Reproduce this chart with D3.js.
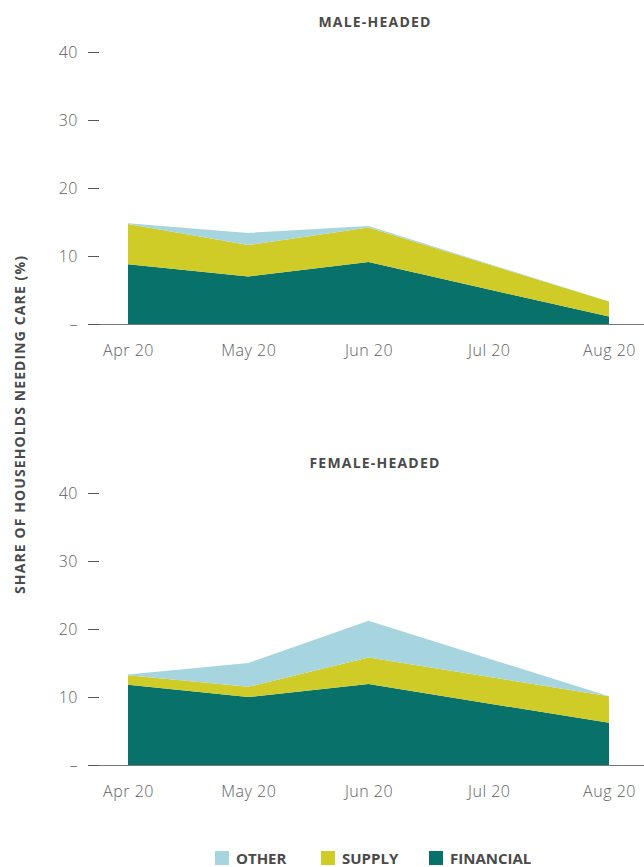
<!DOCTYPE html>
<html><head><meta charset="utf-8">
<script src="https://cdn.jsdelivr.net/npm/d3@7"></script>
<style>
body{margin:0;background:#fff;}
svg{display:block;font-family:"Open Sans",Lato,sans-serif;}
</style></head>
<body>
<svg id="c" width="644" height="867"></svg>
<script>
const axisMonths = ["Apr 20","May 20","Jun 20","Jul 20","Aug 20"];
const dataMonths = ["Apr 20","May 20","Jun 20","Aug 20"];
const seriesKeys = ["financial","supply","other"];
const seriesLabels = ["OTHER","SUPPLY","FINANCIAL"];
const yTicks = [0,10,20,30,40];

const maleFinancial = [8.8, 7.0, 9.1, 1.1];
const maleSupply    = [5.9, 4.6, 5.1, 2.2];
const maleOther     = [0.1, 1.8, 0.2, 0.0];

const femaleFinancial = [11.8, 10.0, 11.9, 6.2];
const femaleSupply    = [1.4, 1.5, 3.9, 3.9];
const femaleOther     = [0.1, 3.5, 5.4, 0.0];

const colors = {financial:"#08716a", supply:"#cfcb27", other:"#a7d5df"};

const svg = d3.select("#c");

function panel(title, fin, sup, oth, top) {
  const bottom = top + 272;
  const g = svg.append("g");
  const x = d3.scalePoint().domain(axisMonths).range([128, 609]);
  const y = d3.scaleLinear().domain([0, 40]).range([bottom, top]);
  const rows = dataMonths.map((m, i) => ({month: m, financial: fin[i], supply: sup[i], other: oth[i]}));
  const stacked = d3.stack().keys(seriesKeys)(rows);
  const area = d3.area().x(d => x(d.data.month)).y0(d => y(d[0])).y1(d => y(d[1]));
  g.selectAll("path.a").data(stacked).join("path")
    .attr("class","a").attr("d", area).attr("fill", d => colors[d.key]);

  g.append("line").attr("x1", 88).attr("x2", 644).attr("y1", bottom + 0.5).attr("y2", bottom + 0.5)
    .attr("stroke", "#777").attr("stroke-width", 1.2);
  const xa = g.append("g").attr("transform", `translate(0,${bottom})`)
    .call(d3.axisBottom(x).tickSize(0).tickPadding(21));
  xa.select(".domain").remove();
  xa.selectAll("text").attr("font-size", 16).attr("fill", "#5e5e5e").attr("letter-spacing", 0.5)
    .attr("font-family", "'Open Sans',sans-serif").attr("font-weight", 300);

  const ya = g.append("g").attr("transform", "translate(99,0)")
    .call(d3.axisLeft(y).tickValues(yTicks).tickSize(11).tickPadding(10)
      .tickFormat(d => d === 0 ? "–" : d));
  ya.select(".domain").remove();
  ya.selectAll("line").attr("stroke", "#555");
  ya.selectAll("text").attr("font-size", 16).attr("fill", "#5e5e5e").attr("letter-spacing", 0.5)
    .attr("font-family", "'Open Sans',sans-serif").attr("font-weight", 300);

  g.append("text").attr("x", 375).attr("y", top - 25).attr("text-anchor", "middle")
    .attr("font-size", 14).attr("font-weight", 700).attr("letter-spacing", 1.2)
    .attr("fill", "#4a4a4a").text(title);
}

panel("MALE-HEADED", maleFinancial, maleSupply, maleOther, 52);
panel("FEMALE-HEADED", femaleFinancial, femaleSupply, femaleOther, 493);

svg.append("text").attr("transform", "translate(25,424.5) rotate(-90)")
  .attr("text-anchor", "middle").attr("font-size", 14).attr("font-weight", 700)
  .attr("letter-spacing", 1.1)
  .attr("fill", "#4a4a4a").text("SHARE OF HOUSEHOLDS NEEDING CARE (%)");

const legendKeys = ["other","supply","financial"];
const legendX = [215, 321, 429];
const lg = svg.append("g");
legendKeys.forEach((k, i) => {
  lg.append("rect").attr("x", legendX[i]).attr("y", 851).attr("width", 14).attr("height", 14).attr("fill", colors[k]);
  lg.append("text").attr("x", legendX[i] + 21).attr("y", 864).attr("font-size", 15).attr("font-weight", 700)
    .attr("fill", "#4a4a4a").text(seriesLabels[i]);
});
</script>
</body></html>
